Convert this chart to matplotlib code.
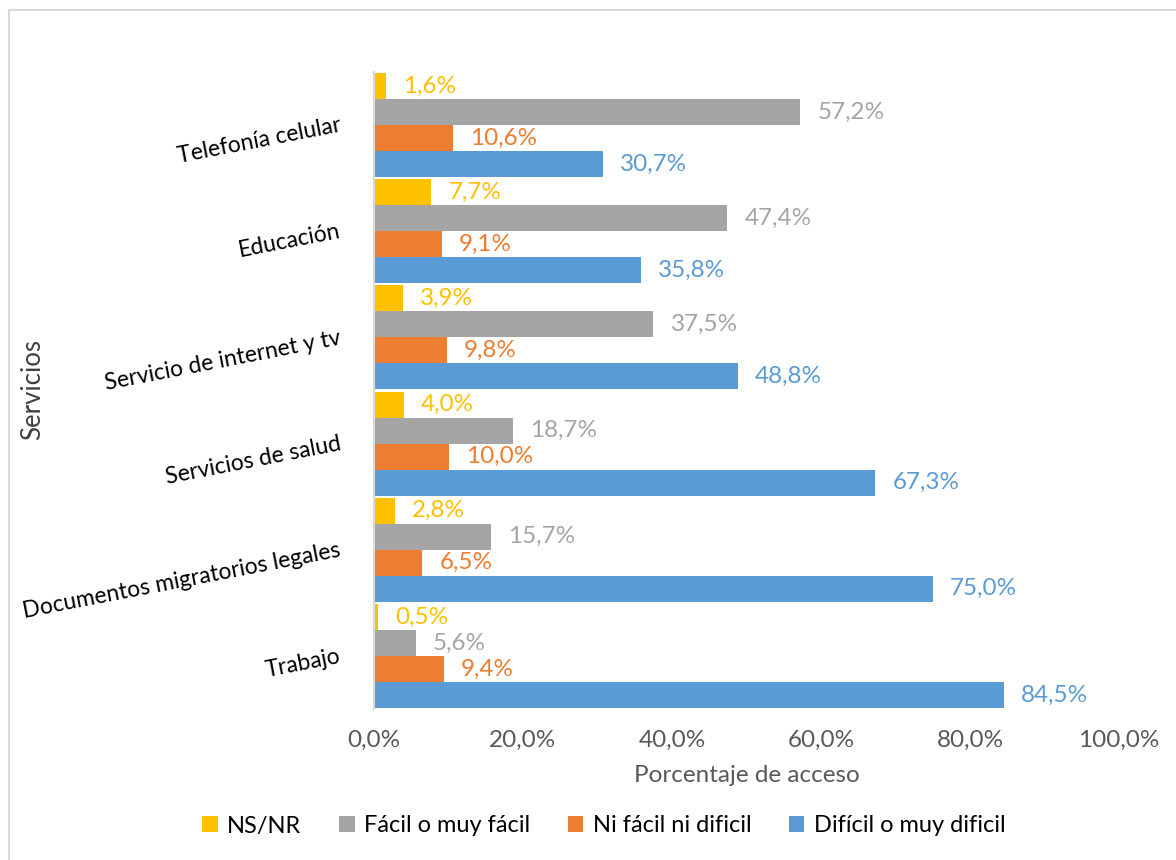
import matplotlib.pyplot as plt
import numpy as np
from matplotlib.patches import Rectangle

plt.rcParams['font.family'] = ['Lato', 'DejaVu Sans']

categories = ["Telefonía celular", "Educación", "Servicio de internet y tv",
              "Servicios de salud", "Documentos migratorios legales", "Trabajo"]
series_names = ["NS/NR", "Fácil o muy fácil", "Ni fácil ni dificil", "Difícil o muy dificil"]
ns_nr = [1.6, 7.7, 3.9, 4.0, 2.8, 0.5]
facil = [57.2, 47.4, 37.5, 18.7, 15.7, 5.6]
ni_facil = [10.6, 9.1, 9.8, 10.0, 6.5, 9.4]
dificil = [30.7, 35.8, 48.8, 67.3, 75.0, 84.5]
colors = ["#FFC000", "#A5A5A5", "#ED7D31", "#5B9BD5"]
x_ticks = [0, 20, 40, 60, 80, 100]

fig = plt.figure(figsize=(11.76, 8.6), dpi=100)
ax = fig.add_axes([374 / 1176, 1 - 709 / 860, (1119 - 374) / 1176, (709 - 72) / 860])

# light frame around the chart
fig.patches.append(Rectangle((9 / 1176, -0.1), 1.2, 1 - 10 / 860 + 0.1, transform=fig.transFigure,
                             fill=False, edgecolor="#D9D9D9", linewidth=1.5))

y = np.arange(len(categories))[::-1].astype(float)
h = 0.245
offsets = [1.5 * h, 0.5 * h, -0.5 * h, -1.5 * h]
all_series = [ns_nr, facil, ni_facil, dificil]

for vals, off, col, name in zip(all_series, offsets, colors, series_names):
    ax.barh(y + off, vals, height=h, color=col, label=name)
    for yy, v in zip(y + off, vals):
        ax.text(v + 2.3, yy, f"{v:.1f}%".replace(".", ","), color=col,
                va="center", ha="left", fontsize=17.5)

ax.set_xlim(0, 100)
ax.set_ylim(-0.5, 5.5)
ax.set_xticks(x_ticks)
ax.set_xticklabels([f"{t:.1f}%".replace(".", ",") for t in x_ticks])
ax.set_yticks(y)
ax.set_yticklabels(categories, rotation=11, ha="right", va="center",
                   rotation_mode="anchor", fontsize=16.5, color="black")
ax.tick_params(axis="x", length=0, pad=15, labelsize=17.5, labelcolor="#595959")
ax.tick_params(axis="y", length=0, pad=24)

for s in ["top", "right", "bottom"]:
    ax.spines[s].set_visible(False)
ax.spines["left"].set_color("#D9D9D9")
ax.spines["left"].set_linewidth(1.5)

ax.set_xlabel("Porcentaje de acceso", fontsize=17.5, color="#595959", labelpad=10)
fig.text(33 / 1176, 1 - 390 / 860, "Servicios", rotation=90, ha="center", va="center",
         fontsize=18.5, color="#404040")

fig.legend(loc="center", bbox_to_anchor=(604 / 1176, 1 - 826 / 860), ncol=4, frameon=False,
           fontsize=17, handlelength=0.65, handleheight=0.65, handletextpad=0.4,
           columnspacing=1.6)

fig.savefig("out.png", dpi=100)
